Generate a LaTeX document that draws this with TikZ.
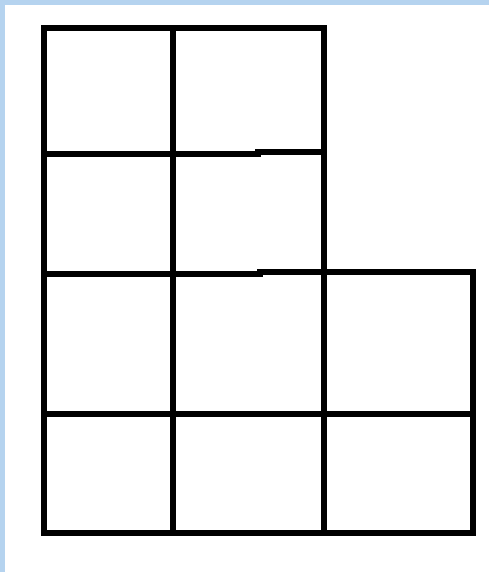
\documentclass[tikz,border=0pt]{standalone}
\definecolor{frameblue}{RGB}{181,211,239}
\tikzset{gridline/.style={line width=6pt,black,line cap=rect}}
\begin{document}
\begin{tikzpicture}[x=1pt,y=-1pt]
\useasboundingbox (0,0) rectangle (489,572);
\fill[white] (0,0) rectangle (489,572);
\fill[frameblue] (0,0) rectangle (489,5);
\fill[frameblue] (0,0) rectangle (5,572);
% outer edges
\draw[gridline] (44,28) -- (324,28);
\draw[gridline] (44,28) -- (44,532.5);
\draw[gridline] (44,532.5) -- (473,532.5);
\draw[gridline] (473,272) -- (473,532.5);
% inner verticals
\draw[gridline] (172.5,28) -- (172.5,532.5);
\draw[gridline] (324,28) -- (324,532.5);
% horizontal line 2 (with slight step)
\draw[gridline] (44,154) -- (258,154);
\draw[gridline] (258,152.5) -- (324,152.5);
% horizontal line 3 (with slight step)
\draw[gridline] (44,274) -- (260,274);
\draw[gridline] (260,272) -- (473,272);
% horizontal line 4
\draw[gridline] (44,414) -- (473,414);
\end{tikzpicture}
\end{document}
